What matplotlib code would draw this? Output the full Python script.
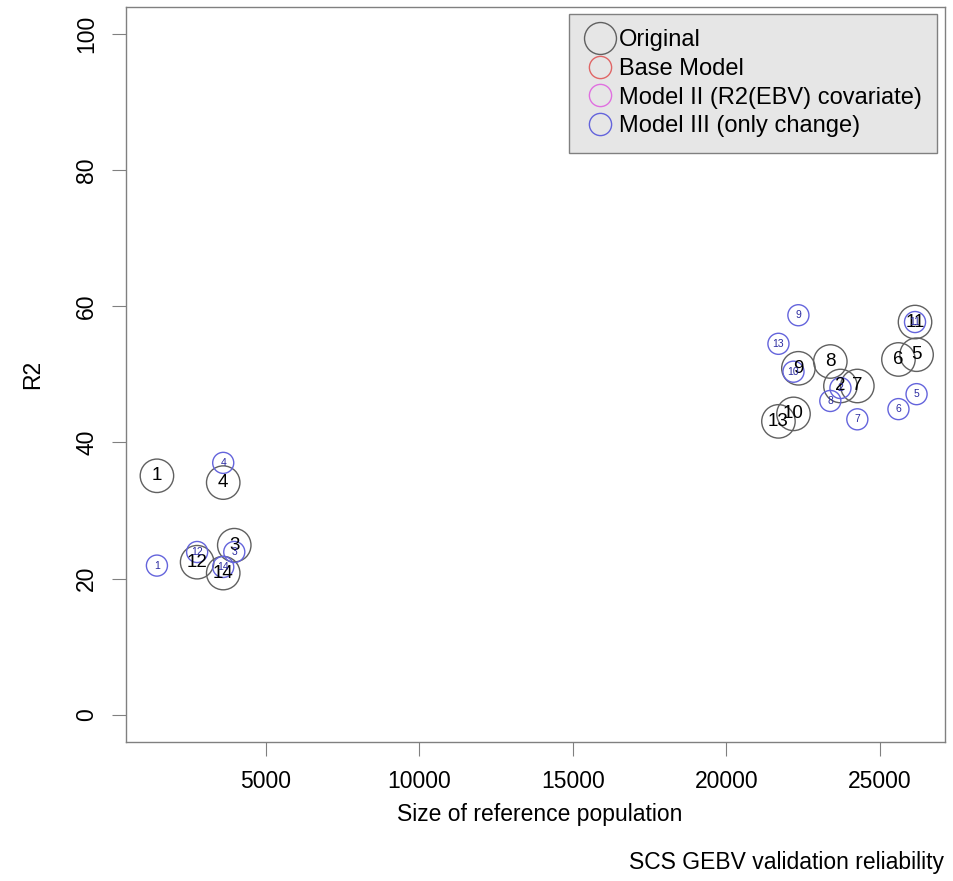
import matplotlib
matplotlib.use("Agg")
import matplotlib.pyplot as plt
from matplotlib.lines import Line2D

plt.rcParams['font.family'] = ['Liberation Sans', 'DejaVu Sans']

# data
ids = [1, 2, 3, 4, 5, 6, 7, 8, 9, 10, 11, 12, 13, 14]
ref_size = [1450, 23720, 3970, 3610, 26200, 25610, 24270, 23390, 22350, 22190, 26150, 2760, 21700, 3610]
r2_original = [35.1, 48.3, 24.9, 34.1, 52.9, 52.2, 48.3, 51.9, 50.9, 44.2, 57.7, 22.4, 43.1, 20.8]
r2_model3 = [21.9, 48.0, 23.9, 37.0, 47.1, 44.9, 43.4, 46.1, 58.7, 50.4, 57.7, 23.9, 54.5, 21.7]

legend_labels = ["Original", "Base Model", "Model II (R2(EBV) covariate)", "Model III (only change)"]
legend_colors = ["#606060", "#e06666", "#e070e0", "#6464dc"]

fig = plt.figure(figsize=(9.54, 8.81), dpi=100)
ax = fig.add_axes([0.132, 0.158, 0.859, 0.834])

# original: big gray circles with black numbers
ax.scatter(ref_size, r2_original, s=580, facecolors='none', edgecolors='#606060', linewidths=1.0, zorder=2)
for i, x, y in zip(ids, ref_size, r2_original):
    ax.text(x, y, str(i), ha='center', va='center', fontsize=13.5, color='black', zorder=3)

# model III: small blue circles with blue numbers
ax.scatter(ref_size, r2_model3, s=230, facecolors='none', edgecolors='#6464dc', linewidths=1.0, zorder=2)
for i, x, y in zip(ids, ref_size, r2_model3):
    ax.text(x, y, str(i), ha='center', va='center', fontsize=7.5, color='#2a2aa0', zorder=3)

ax.set_xlim(440, 27140)
ax.set_ylim(-4, 104)
ax.set_xticks([5000, 10000, 15000, 20000, 25000])
ax.set_yticks([0, 20, 40, 60, 80, 100])
ax.tick_params(axis='both', labelsize=16.5, length=10, width=0.8, color='#808080', pad=10)
for lab in ax.get_yticklabels():
    lab.set_rotation(90)
    lab.set_va('center')
for sp in ax.spines.values():
    sp.set_color('#808080')
    sp.set_linewidth(1.0)

ax.set_ylabel("R2", fontsize=16.5, labelpad=22)
fig.text(0.566, 1 - 815 / 881, "Size of reference population", ha='center', va='center', fontsize=16.5)
fig.text(0.99, 1 - 862 / 881, "SCS GEBV validation reliability", ha='right', va='center', fontsize=16.5)

handles = []
for k, c in enumerate(legend_colors):
    ms = 23 if k == 0 else 16
    handles.append(Line2D([], [], marker='o', linestyle='none', markersize=ms,
                          markerfacecolor='none', markeredgecolor=c, markeredgewidth=1.0))
leg = ax.legend(handles, legend_labels, loc='upper right', bbox_to_anchor=(0.990, 0.9905),
                fontsize=17, frameon=True, fancybox=False, framealpha=1,
                facecolor='#e6e6e6', edgecolor='#808080', labelspacing=0.28,
                handletextpad=0.15, handlelength=1.3, borderpad=0.65, borderaxespad=0)
leg.get_frame().set_linewidth(1.0)

fig.savefig("out.png", dpi=100)
